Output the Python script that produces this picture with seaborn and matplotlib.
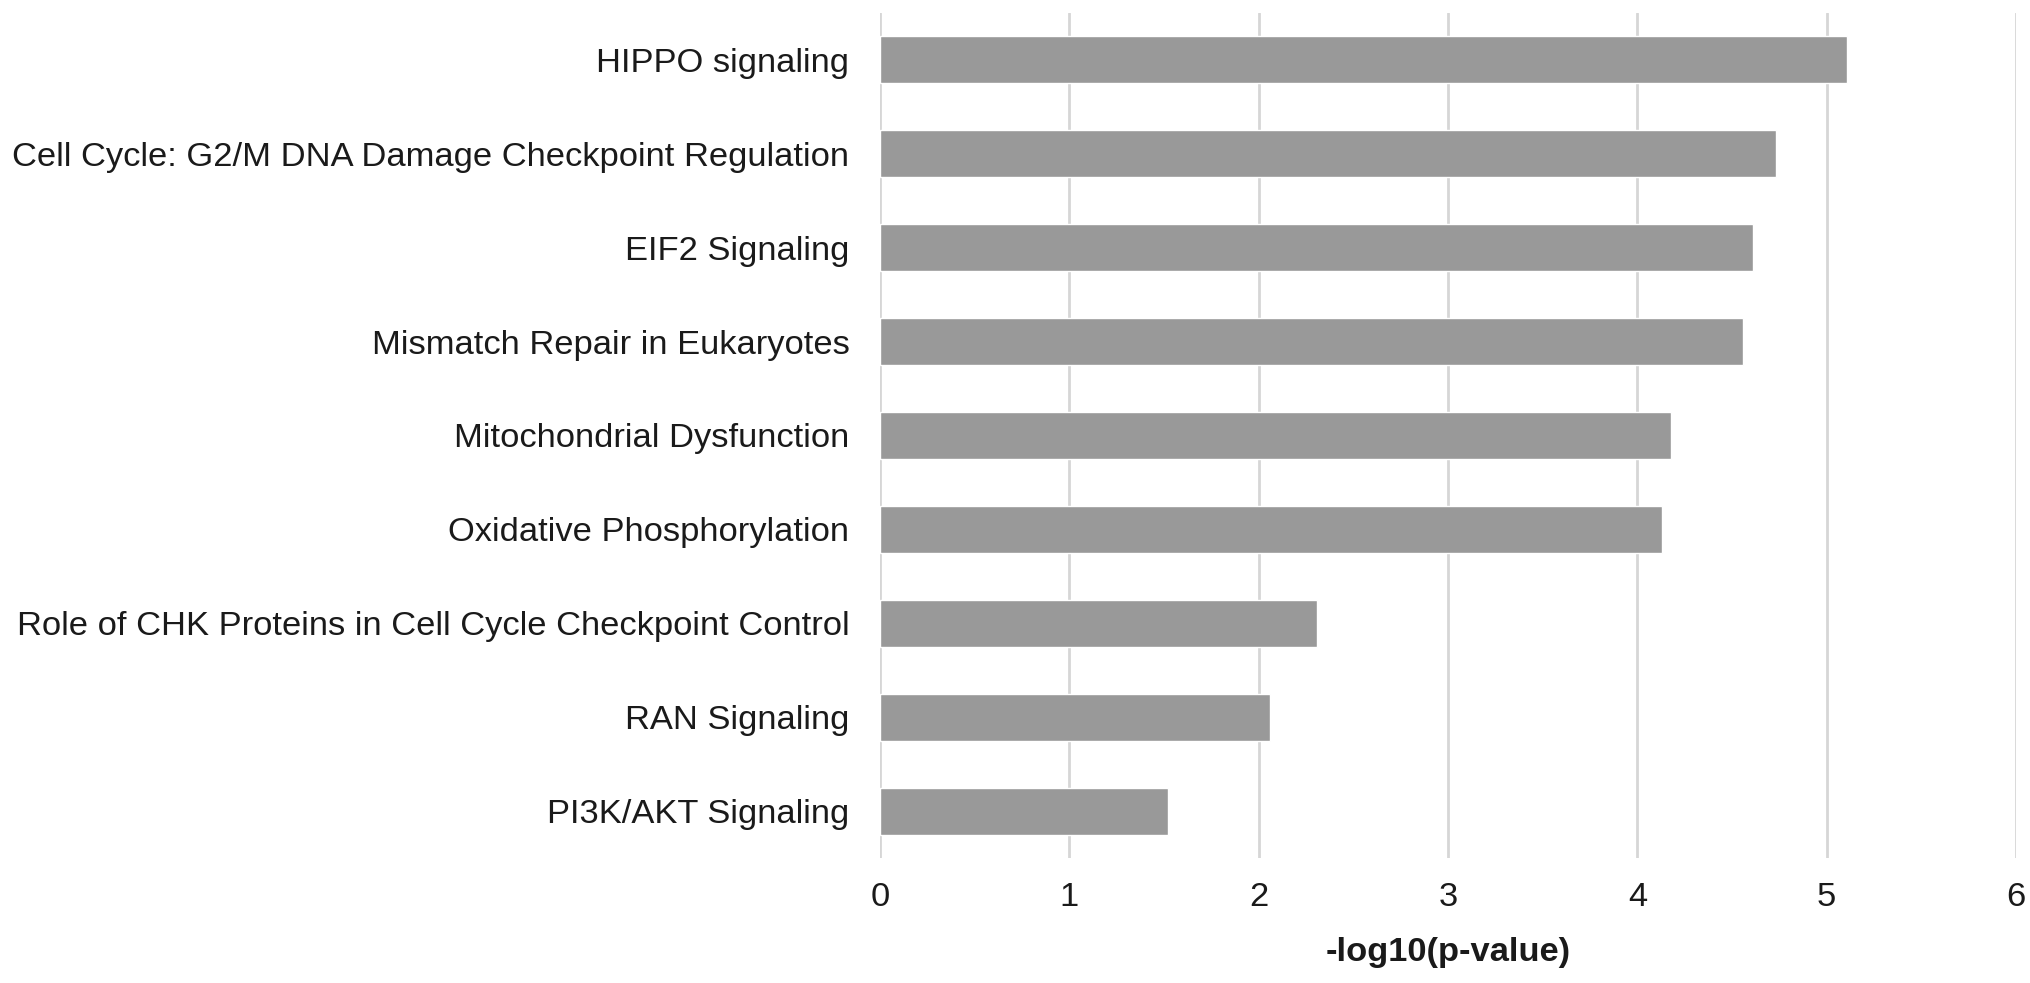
import matplotlib

matplotlib.use("Agg")
import matplotlib.pyplot as plt
import pandas as pd
import seaborn as sns

pathways = [
    "HIPPO signaling",
    "Cell Cycle: G2/M DNA Damage Checkpoint Regulation",
    "EIF2 Signaling",
    "Mismatch Repair in Eukaryotes",
    "Mitochondrial Dysfunction",
    "Oxidative Phosphorylation",
    "Role of CHK Proteins in Cell Cycle Checkpoint Control",
    "RAN Signaling",
    "PI3K/AKT Signaling",
]
neg_log_p = [5.11, 4.73, 4.61, 4.56, 4.18, 4.13, 2.31, 2.06, 1.52]
x_ticks = [0, 1, 2, 3, 4, 5, 6]

BAR = "#999999"
GRID = "#d6d6d6"
TEXT = "#1a1a1a"

sns.set_theme(style="white")
plt.rcParams["font.family"] = ["Liberation Sans", "DejaVu Sans"]

df = pd.DataFrame({"pathway": pathways, "score": neg_log_p})

fig = plt.figure(figsize=(20.31, 9.83), dpi=100)
ax = fig.add_axes([0.4333, 0.127, 0.5593, 0.86])
sns.barplot(data=df, x="score", y="pathway", orient="h", color=BAR, width=0.5,
            saturation=1, ax=ax)

ax.set_xlim(0, 6)
ax.set_ylim(len(pathways) - 0.5, -0.5)
ax.set_xticks(x_ticks)
ax.xaxis.grid(True, color=GRID, lw=2)
ax.yaxis.grid(False)
ax.set_axisbelow(True)
for s in ax.spines.values():
    s.set_visible(False)
ax.tick_params(axis="both", length=0, labelsize=24.8, colors=TEXT)
ax.tick_params(axis="y", pad=22)
ax.tick_params(axis="x", pad=17)
ax.set_ylabel("")
ax.set_xlabel("-log10(p-value)", fontsize=24.8, fontweight="bold", color=TEXT, labelpad=17.5)

fig.savefig("out.png", dpi=100, facecolor="white")
